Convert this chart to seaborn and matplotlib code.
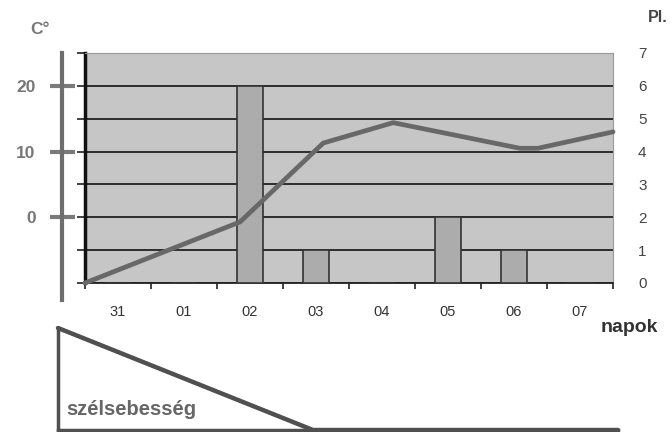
import numpy as np
import pandas as pd
import matplotlib
matplotlib.use("Agg")
import matplotlib.pyplot as plt
import seaborn as sns

# Days on the x axis and daily precipitation (Pl., right axis)
days = ["31", "01", "02", "03", "04", "05", "06", "07"]
precip = [0, 0, 6, 1, 0, 2, 1, 0]

# Temperature curve (C°), x in day units from the left edge
temp_x = [0.0, 2.35, 3.61, 4.67, 6.59, 6.86, 8.0]
temp_y = [-10.0, -0.7, 11.3, 14.4, 10.5, 10.5, 13.0]
temp_ticks = [0, 10, 20]

# Wind speed sketch below the chart (relative)
wind_x = [-0.41, 3.45, 8.07]
wind_y = [1.0, 0.0, 0.0]

sns.set_theme(style="white")
plt.rcParams['font.family'] = ['Liberation Sans', 'DejaVu Sans']

fig = plt.figure(figsize=(6.72, 4.32), dpi=100)
W, H = 672, 432

# main panel: x day d -> pixel 85 + 66 d
ax = fig.add_axes([85 / W, 1 - 283 / H, 528 / W, 230 / H])
ax.set_facecolor("#c6c6c6")

df = pd.DataFrame({"pos": np.arange(len(days)) + 0.5, "pl": precip})
sns.barplot(data=df, x="pos", y="pl", native_scale=True, width=0.4,
            color="#acacac", edgecolor="#333333", linewidth=1.2,
            saturation=1, ax=ax, zorder=3)
ax.set_xlim(0, 8)
ax.set_ylim(0, 7)
ax.grid(axis="y", color="#222222", lw=1.3)
ax.grid(axis="x", visible=False)
ax.set_axisbelow(True)
ax.set_xlabel("")
ax.set_ylabel("")

ax.set_xticks(df["pos"], days)
ax.set_xticks(range(9), minor=True)
ax.tick_params(axis="x", which="major", length=0, pad=16, labelsize=10.5,
               labelcolor="#333333")
ax.tick_params(axis="x", which="minor", bottom=True, length=4, width=1.2,
               color="#222222", direction="out")

for s in ["top", "right"]:
    ax.spines[s].set_color("#9a9a9a")
    ax.spines[s].set_linewidth(0.8)
ax.spines["left"].set_color("#111111")
ax.spines["left"].set_linewidth(2.5)
ax.spines["bottom"].set_color("#222222")
ax.spines["bottom"].set_linewidth(1.3)

# temperature axis (left, gray, offset)
ax_t = ax.twinx()
sns.lineplot(x=temp_x, y=temp_y, sort=False, color="#686868", lw=3.4,
             ax=ax_t, clip_on=False)
ax_t.set_ylim(-10, 25)
for s in ["top", "right", "bottom"]:
    ax_t.spines[s].set_visible(False)
ax_t.spines["left"].set_visible(True)
ax_t.spines["left"].set_position(("outward", 16.5))
ax_t.spines["left"].set_bounds(-12.6, 25)
ax_t.spines["left"].set_color("#6e6e6e")
ax_t.spines["left"].set_linewidth(3)
ax_t.grid(False)
ax_t.yaxis.set_ticks_position("left")
ax_t.set_yticks(temp_ticks, [str(v) for v in temp_ticks])
ax_t.tick_params(axis="y", direction="inout", length=18, width=3,
                 color="#7a7a7a", pad=10, labelsize=12.5,
                 labelcolor="#777777")
for lab in ax_t.get_yticklabels():
    lab.set_fontweight("bold")

# precipitation labels on the right, short ticks on the left
ax.set_yticks(range(8))
ax.tick_params(axis="y", left=True, right=False, labelleft=False,
               labelright=True, length=6, width=1.2, color="#222222",
               pad=12, labelsize=11, labelcolor="#444444")

fig.text(30 / W, 1 - 30 / H, "C°", fontsize=12.5, fontweight="bold",
         color="#777777", va="center", ha="left")
fig.text(658 / W, 1 - 18 / H, "Pl.", fontsize=11.5, fontweight="bold",
         color="#444444", va="center", ha="center")
fig.text(629 / W, 1 - 328 / H, "napok", fontsize=14, fontweight="bold",
         color="#333333", va="center", ha="center")

# wind panel
ax_w = fig.add_axes([58 / W, 2 / H, 560 / W, (430 - 328) / H])
ax_w.set_facecolor("none")
sns.lineplot(x=wind_x, y=wind_y, sort=False, color="#505050", lw=3.2,
             ax=ax_w, clip_on=False)
ax_w.set_xlim(-0.41, 8.07)
ax_w.set_ylim(0, 1)
ax_w.set_xticks([])
ax_w.set_yticks([])
ax_w.grid(False)
for s in ["top", "right"]:
    ax_w.spines[s].set_visible(False)
for s in ["left", "bottom"]:
    ax_w.spines[s].set_color("#505050")
    ax_w.spines[s].set_linewidth(2.5)
ax_w.text(0.015, 0.2, "szélsebesség", transform=ax_w.transAxes,
          fontsize=14.5, fontweight="bold", color="#666666",
          ha="left", va="center")

fig.savefig("out.png", dpi=100)
